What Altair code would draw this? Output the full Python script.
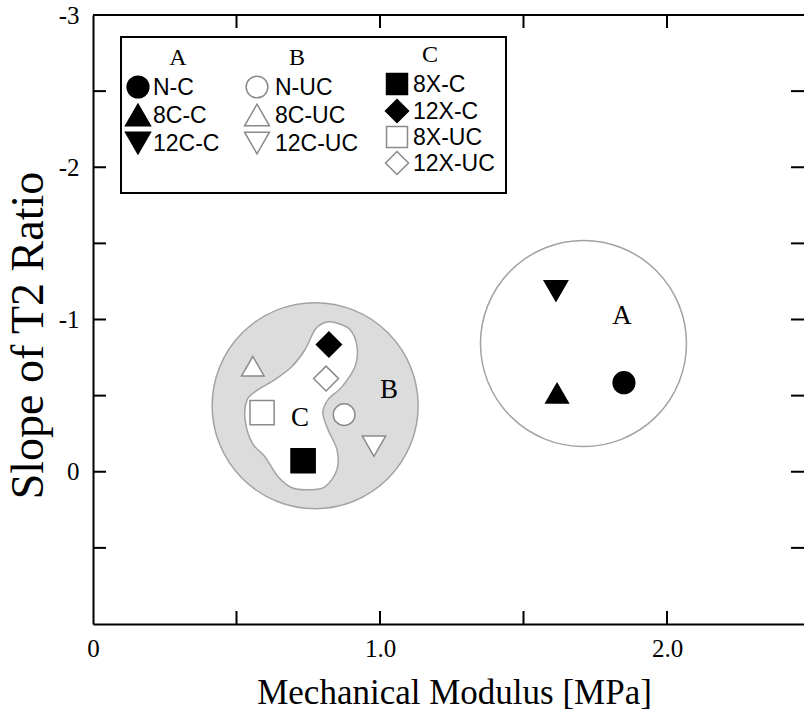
import altair as alt
import pandas as pd

# ---------------- data ----------------
labels = ["N-C", "8C-C", "12C-C", "N-UC", "8C-UC", "12C-UC", "8X-C", "12X-C", "8X-UC", "12X-UC"]
groups = ["A", "A", "A", "B", "B", "B", "C", "C", "C", "C"]
state = ["C", "C", "C", "UC", "UC", "UC", "C", "C", "UC", "UC"]
shapes = ["circle", "triangle-up", "triangle-down", "circle", "triangle-up", "triangle-down",
          "square", "diamond", "square", "diamond"]
modulus = [1.850, 1.617, 1.613, 0.875, 0.557, 0.979, 0.732, 0.822, 0.589, 0.812]
slope = [-0.585, -0.516, -1.188, -0.375, -0.693, -0.168, -0.072, -0.836, -0.388, -0.612]

# group regions (circles A and B, blob C)
region_names = ["A", "B"]
region_cx = [1.709, 0.774]
region_cy = [-0.842, -0.434]

blob_x = [0.843, 0.895, 0.920, 0.913, 0.868, 0.819, 0.801, 0.819, 0.850, 0.850, 0.808, 0.749,
          0.693, 0.645, 0.599, 0.554, 0.530, 0.537, 0.575, 0.634, 0.693, 0.739, 0.774, 0.808]
blob_y = [-0.980, -0.934, -0.822, -0.691, -0.559, -0.474, -0.388, -0.276, -0.145, -0.013, 0.099, 0.118,
          0.105, 0.033, -0.099, -0.191, -0.342, -0.474, -0.539, -0.605, -0.691, -0.803, -0.934, -0.980]

region_text = ["A", "B", "C"]
region_text_x = [1.843, 1.031, 0.721]
region_text_y = [-1.02, -0.54, -0.355]

x_labels = [0, 1, 2]
x_ticks = [0.5, 1.0, 1.5, 2.0]
y_labels = [-3, -2, -1, 0]
y_ticks = [-2.5, -2.0, -1.5, -1.0, -0.5, 0.0, 0.5]

# ---------------- style / layout ----------------
W, H = 711, 609
PX_PER_X = 287.0
XMAX = W / PX_PER_X
SERIF = "Liberation Serif"
SANS = "Liberation Sans"
GRAY = "#8a8a8a"
CIRC_STROKE = "#a3a3a3"
B_FILL = "#dcdcdc"
TICK = 13
shape_sizes = {"circle": 470, "triangle-up": 620, "triangle-down": 620, "square": 440, "diamond": 530}

xscale = alt.Scale(domain=[0, XMAX], nice=False, zero=False)
yscale = alt.Scale(domain=[-3, 1], nice=False, zero=False, reverse=True)

x_axis = alt.Axis(values=x_labels, ticks=False, grid=False, domain=True, domainColor="black",
                  domainWidth=2, labelExpr="datum.value == 0 ? '0' : format(datum.value, '.1f')",
                  labelFont=SERIF, labelFontSize=25, labelColor="black", labelPadding=12,
                  labelFlush=False, labelOverlap=False,
                  title="Mechanical Modulus [MPa]", titleFont=SERIF, titleFontSize=35,
                  titleFontWeight="normal", titleColor="black", titleX=361, titleY=79,
                  titleBaseline="alphabetic", titleAlign="center")
y_axis = alt.Axis(values=y_labels, ticks=False, grid=False, domain=True, domainColor="black",
                  domainWidth=2, labelExpr="'' + datum.value",
                  labelFont=SERIF, labelFontSize=25, labelColor="black", labelPadding=14,
                  labelFlush=False, labelOverlap=False,
                  title="Slope of T2 Ratio", titleFont=SERIF, titleFontSize=46,
                  titleFontWeight="normal", titleColor="black", titleX=-51, titleY=320,
                  titleBaseline="alphabetic", titleAlign="center")


def X(field):
    return alt.X(f"{field}:Q", scale=xscale, axis=x_axis)


def Y(field):
    return alt.Y(f"{field}:Q", scale=yscale, axis=y_axis)


# ---------------- region shapes ----------------
circ_df = pd.DataFrame({"x": region_cx, "y": region_cy, "name": region_names})
circle_fill = {"A": "white", "B": B_FILL}
circle_layers = [
    alt.Chart(circ_df).transform_filter(alt.datum.name == nm).mark_point(
        shape="circle", size=206 ** 2, opacity=1, strokeWidth=1.5, stroke=CIRC_STROKE,
        fill=circle_fill[nm]).encode(x=X("x"), y=Y("y"))
    for nm in region_names
]

blob_df = pd.DataFrame({"x": blob_x, "y": blob_y, "i": list(range(len(blob_x)))})
blob = alt.Chart(blob_df).mark_line(interpolate="cardinal-closed", fill="white", stroke=CIRC_STROKE,
                                    strokeWidth=1.5).encode(
    x=X("x"), y=Y("y"), order=alt.Order("i:Q"))

# ---------------- data points ----------------
pts_df = pd.DataFrame({"x": modulus, "y": slope, "label": labels, "state": state, "shape": shapes})
points = alt.Chart(pts_df).mark_point(opacity=1, strokeWidth=1.5).encode(
    x=X("x"), y=Y("y"),
    shape=alt.Shape("label:N", scale=alt.Scale(domain=labels, range=shapes), legend=None),
    size=alt.Size("shape:N", scale=alt.Scale(domain=list(shape_sizes), range=list(shape_sizes.values())),
                  legend=None),
    fill=alt.Fill("state:N", scale=alt.Scale(domain=["C", "UC"], range=["black", "white"]), legend=None),
    stroke=alt.Stroke("state:N", scale=alt.Scale(domain=["C", "UC"], range=["black", GRAY]), legend=None),
)

rt_df = pd.DataFrame({"x": region_text_x, "y": region_text_y, "t": region_text})
region_labels = alt.Chart(rt_df).mark_text(font=SERIF, fontSize=27, baseline="middle", align="center",
                                           color="black").encode(x=X("x"), y=Y("y"), text="t:N")

# ---------------- frame ticks (pointing inward) ----------------
one = pd.DataFrame({"a": [0]})
yt_df = pd.DataFrame({"y": y_ticks})
xt_df = pd.DataFrame({"x": x_ticks})
tick_style = dict(color="black", strokeWidth=2)
left_ticks = alt.Chart(yt_df).mark_rule(**tick_style).encode(y=Y("y"), x=alt.value(0), x2=alt.value(TICK))
right_ticks = alt.Chart(yt_df).mark_rule(**tick_style).encode(y=Y("y"), x=alt.value(W - TICK), x2=alt.value(W))
bottom_ticks = alt.Chart(xt_df).mark_rule(**tick_style).encode(x=X("x"), y=alt.value(H - TICK), y2=alt.value(H))
top_ticks = alt.Chart(xt_df).mark_rule(**tick_style).encode(x=X("x"), y=alt.value(0), y2=alt.value(TICK))
top_line = alt.Chart(one).mark_rule(**tick_style).encode(x=alt.value(0), x2=alt.value(W), y=alt.value(0))

# ---------------- legend box ----------------
LX0, LX1, LY0, LY1 = 28, 413, 22, 178
col_sym_x = {"A": 45, "B": 164, "C": 304}
col_txt_x = {"A": 60, "B": 182, "C": 320}
col_rows_y = {"A": [72, 100, 128], "B": [72, 100, 128], "C": [69, 96, 122, 148]}
head_pos = {"A": (85, 43), "B": (204, 43), "C": (337, 40)}

legend_layers = [alt.Chart(one).mark_rect(fill="white", stroke="black", strokeWidth=2).encode(
    x=alt.value(LX0), x2=alt.value(LX1), y=alt.value(LY0), y2=alt.value(LY1))]
for g, (hx, hy) in head_pos.items():
    legend_layers.append(alt.Chart(one).mark_text(text=g, font=SERIF, fontSize=24, baseline="middle",
                                                  align="center", color="black").encode(
        x=alt.value(hx), y=alt.value(hy)))
counter = {"A": 0, "B": 0, "C": 0}
for lab, g, st, shp in zip(labels, groups, state, shapes):
    r = counter[g]
    counter[g] += 1
    yy = col_rows_y[g][r]
    filled = st == "C"
    legend_layers.append(alt.Chart(one).mark_point(
        shape=shp, size=shape_sizes[shp], opacity=1, strokeWidth=1.5,
        fill="black" if filled else "white", stroke="black" if filled else GRAY).encode(
        x=alt.value(col_sym_x[g]), y=alt.value(yy)))
    legend_layers.append(alt.Chart(one).mark_text(text=lab, font=SANS, fontSize=23, baseline="middle",
                                                  align="left", color="black").encode(
        x=alt.value(col_txt_x[g]), y=alt.value(yy + 1)))

chart = alt.layer(
    *circle_layers, blob, points, region_labels,
    left_ticks, right_ticks, bottom_ticks, top_ticks, top_line,
    *legend_layers,
).properties(
    width=W, height=H, autosize="none",
    padding={"left": 93, "top": 15, "right": 0, "bottom": 86},
    background="white",
).configure_view(stroke=None)

chart.save("out.html", embed_options={"renderer": "svg", "actions": False})
